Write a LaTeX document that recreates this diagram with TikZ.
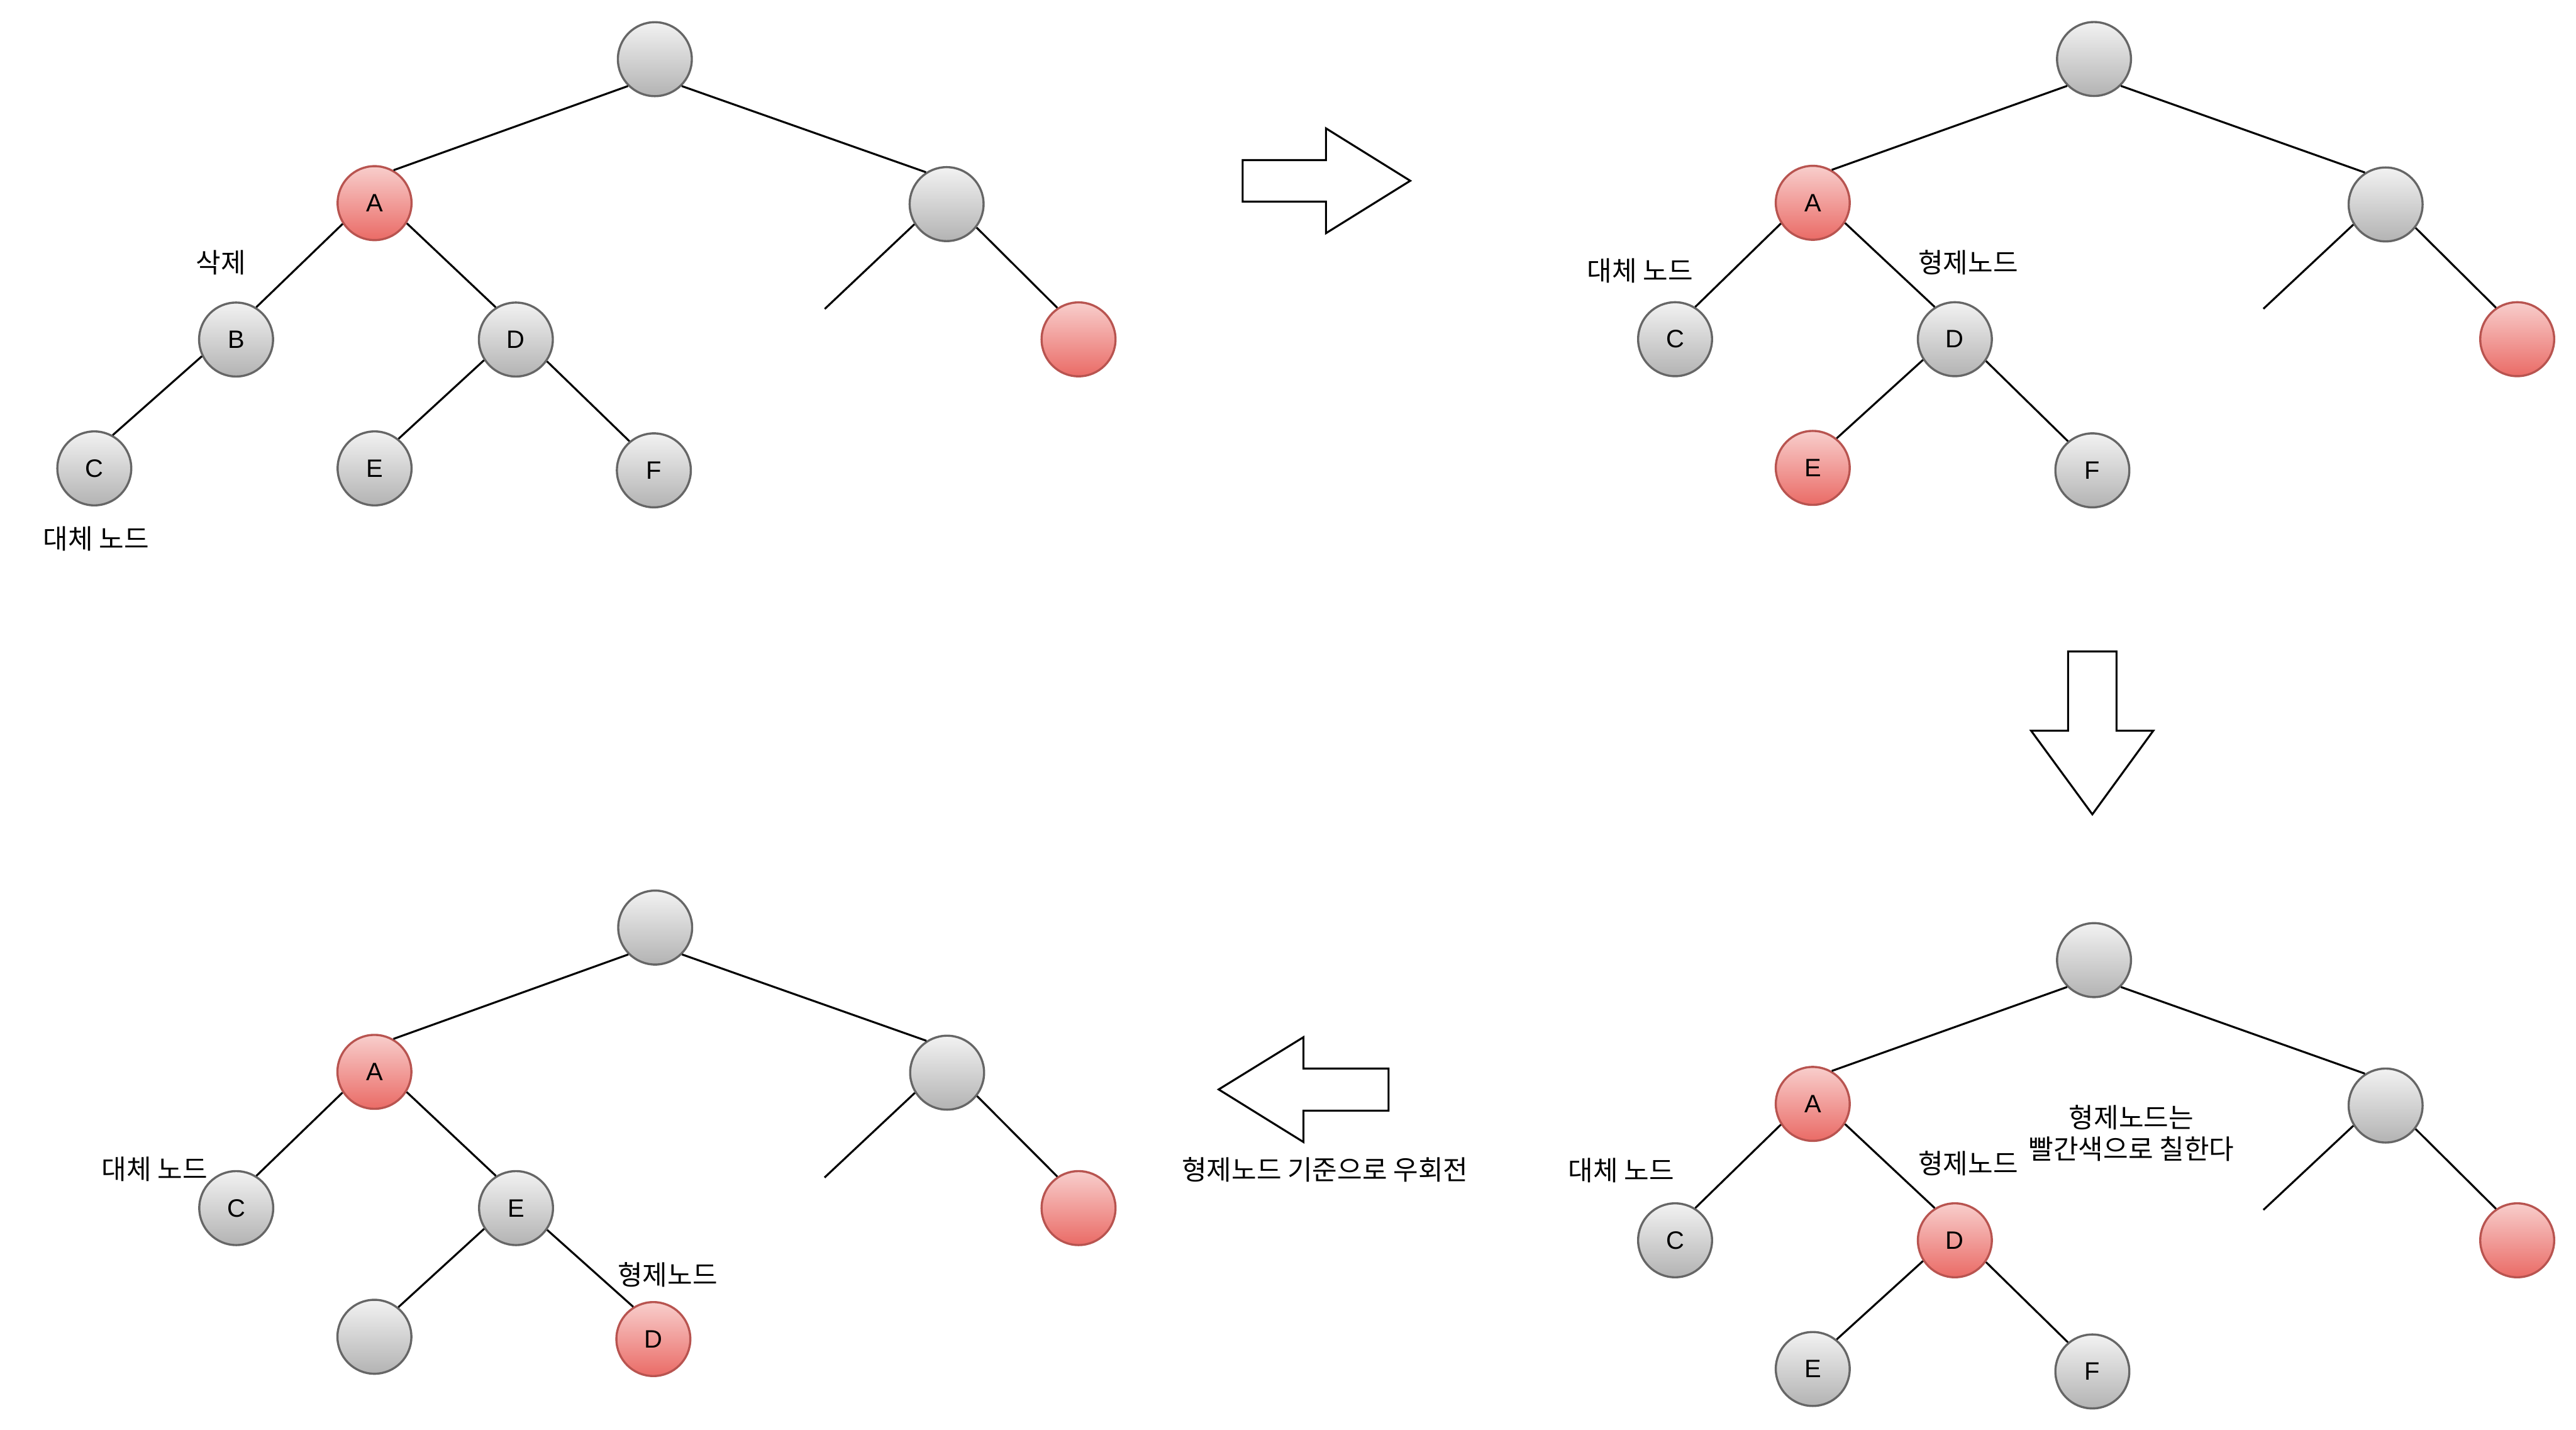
\documentclass[tikz,border=0pt]{standalone}
\usepackage{fontspec}
\setmainfont{Liberation Sans}
\newfontfamily\kr{Noto Sans CJK KR}
\definecolor{gtop}{HTML}{F2F2F2}
\definecolor{gbot}{HTML}{B3B3B3}
\definecolor{gstroke}{HTML}{666666}
\definecolor{rtop}{HTML}{F8CECC}
\definecolor{rbot}{HTML}{EA6B66}
\definecolor{rstroke}{HTML}{B85450}
\begin{document}
\begin{tikzpicture}[x=1pt,y=-1pt,
  gnode/.style={circle, minimum size=45pt, inner sep=0pt, draw=gstroke, line width=1.3pt,
    top color=gtop, bottom color=gbot, font=\fontsize{15.3}{18}\selectfont},
  rnode/.style={gnode, draw=rstroke, top color=rtop, bottom color=rbot},
  edge/.style={line width=1.2pt, draw=black},
  lbl/.style={font=\kr\fontsize{16.5}{19.3}\selectfont, inner sep=0pt, align=center},
  biglbl/.style={font=\kr\fontsize{16.5}{20}\selectfont, inner sep=0pt},
  bigarrow/.style={draw=black, line width=1.2pt, fill=white, line join=miter}]
\useasboundingbox (0,0) rectangle (1568,870);

% ---------- Tree 1 (top-left) ----------
\node[gnode] (aRoot) at (398.6,36) {};
\node[rnode] (aA) at (228,123.6) {A};
\node[gnode] (aRt) at (576.2,124.2) {};
\node[gnode] (aB) at (143.7,206.6) {B};
\node[gnode] (aD) at (314,206.6) {D};
\node[gnode] (aC) at (57.4,285) {C};
\node[gnode] (aE) at (228,285) {E};
\node[gnode] (aF) at (398,286.2) {F};
\node[rnode] (aRR) at (656.5,206.5) {};
\coordinate (aX) at (502,188);
\draw[edge] (aRoot.225) -- (aA.60);
\draw[edge] (aRoot.-45) -- (aRt.123);
\draw[edge] (aA.213) -- (aB.58);
\draw[edge] (aA.-32) -- (aD.122);
\draw[edge] (aB.206) -- (aC.61);
\draw[edge] (aD.213) -- (aE.51);
\draw[edge] (aD.-35) -- (aF.130);
\draw[edge] (aRt.212) -- (aX);
\draw[edge] (aRt.-38) -- (aRR.124);
\node[lbl] (aL1) at (134.4,159.9) {삭제};
\node[lbl] (aL2) at (58.4,328) {대체 노드};

% ---------- Tree 2 (top-right) ----------
\node[gnode] (bRoot) at (1274.6,35.9) {};
\node[rnode] (bA) at (1103.4,123.4) {A};
\node[gnode] (bRt) at (1452.1,124.4) {};
\node[gnode] (bC) at (1019.6,206.4) {C};
\node[gnode] (bD) at (1189.9,206.4) {D};
\node[rnode] (bE) at (1103.4,284.7) {E};
\node[gnode] (bF) at (1273.6,286.2) {F};
\node[rnode] (bRR) at (1532.2,206.4) {};
\coordinate (bX) at (1377.7,187.9);
\draw[edge] (bRoot.225) -- (bA.60);
\draw[edge] (bRoot.-45) -- (bRt.123);
\draw[edge] (bA.213) -- (bC.58);
\draw[edge] (bA.-32) -- (bD.122);
\draw[edge] (bD.213) -- (bE.51);
\draw[edge] (bD.-35) -- (bF.130);
\draw[edge] (bRt.212) -- (bX);
\draw[edge] (bRt.-38) -- (bRR.124);
\node[lbl] (bL1) at (998.2,164.9) {대체 노드};
\node[lbl] (bL2) at (1198,159.7) {형제노드};

% ---------- Tree 3 (bottom-right) ----------
\node[gnode] (cRoot) at (1274.6,584.2) {};
\node[rnode] (cA) at (1103.4,671.7) {A};
\node[gnode] (cRt) at (1452.1,672.7) {};
\node[gnode] (cC) at (1019.6,754.7) {C};
\node[rnode] (cD) at (1189.9,754.7) {D};
\node[gnode] (cE) at (1103.4,833) {E};
\node[gnode] (cF) at (1273.6,834.5) {F};
\node[rnode] (cRR) at (1532.2,754.7) {};
\coordinate (cX) at (1377.7,736.2);
\draw[edge] (cRoot.225) -- (cA.60);
\draw[edge] (cRoot.-45) -- (cRt.123);
\draw[edge] (cA.213) -- (cC.58);
\draw[edge] (cA.-32) -- (cD.122);
\draw[edge] (cD.213) -- (cE.51);
\draw[edge] (cD.-35) -- (cF.130);
\draw[edge] (cRt.212) -- (cX);
\draw[edge] (cRt.-38) -- (cRR.124);
\node[lbl] (cL1) at (986.8,712) {대체 노드};
\node[lbl] (cL2) at (1198,708) {형제노드};
\node[lbl] (cL3) at (1297.3,689.5) {형제노드는\\빨간색으로 칠한다};

% ---------- Tree 4 (bottom-left) ----------
\node[gnode] (dRoot) at (398.8,564.4) {};
\node[rnode] (dA) at (227.9,652.2) {A};
\node[gnode] (dRt) at (576.5,652.7) {};
\node[gnode] (dC) at (143.8,735.1) {C};
\node[gnode] (dE) at (314.1,735.1) {E};
\node[gnode] (dN) at (227.9,813.4) {};
\node[rnode] (dD) at (397.7,814.8) {D};
\node[rnode] (dRR) at (656.5,735.1) {};
\coordinate (dX) at (501.9,716.5);
\draw[edge] (dRoot.225) -- (dA.60);
\draw[edge] (dRoot.-45) -- (dRt.123);
\draw[edge] (dA.213) -- (dC.58);
\draw[edge] (dA.-32) -- (dE.122);
\draw[edge] (dE.213) -- (dN.51);
\draw[edge] (dE.-35) -- (dD.122);
\draw[edge] (dRt.212) -- (dX);
\draw[edge] (dRt.-38) -- (dRR.124);
\node[lbl] (dL1) at (94.1,711.5) {대체 노드};
\node[lbl] (dL2) at (406.4,775.6) {형제노드};

% ---------- Block arrows ----------
\draw[bigarrow] (756.4,97.4) -- (807.1,97.4) -- (807.1,78.1) -- (858.4,110)
  -- (807.1,141.9) -- (807.1,122.7) -- (756.4,122.7) -- cycle;
\draw[bigarrow] (1258.8,396.4) -- (1288.3,396.4) -- (1288.3,444.6) -- (1310.7,444.6)
  -- (1273.6,495.5) -- (1236.3,444.6) -- (1258.8,444.6) -- cycle;
\draw[bigarrow] (845.2,650.2) -- (793.4,650.2) -- (793.4,631.1) -- (741.8,662.9)
  -- (793.4,694.9) -- (793.4,675.8) -- (845.2,675.8) -- cycle;
\node[biglbl] (rotLbl) at (806.5,711.8) {형제노드 기준으로 우회전};
\end{tikzpicture}
\end{document}
